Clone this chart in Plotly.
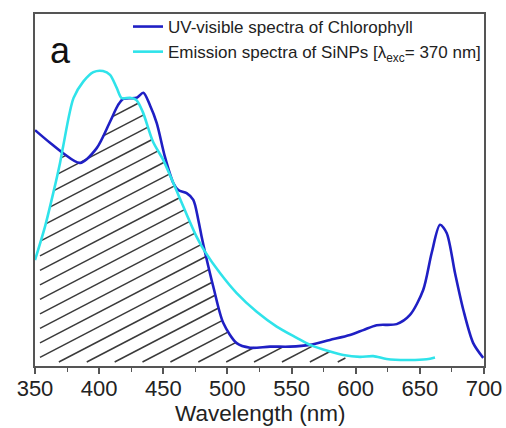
import numpy as np
import plotly.graph_objects as go

# ---------------- data ----------------
wl_uv = [350, 361.7, 371.8, 385.1, 398.1, 408.5, 414.7, 418.8, 429.3, 434.4,
         439.6, 444.9, 451.3, 457.8, 461.7, 468.2, 473.4, 477.3, 479.9, 482.5,
         489.0, 496.8, 507.2, 517.6, 533.2, 548.8, 564.3, 579.9, 595.5, 605.9,
         616.3, 631.9, 642.3, 652.6, 659.2, 665.7, 670.9, 677.4, 683.9, 691.6, 699.4]
abs_uv = [0.670, 0.634, 0.605, 0.577, 0.619, 0.694, 0.741, 0.759, 0.762, 0.776,
          0.741, 0.690, 0.594, 0.520, 0.500, 0.491, 0.472, 0.415, 0.367, 0.324,
          0.225, 0.122, 0.065, 0.052, 0.055, 0.055, 0.060, 0.074, 0.088, 0.102,
          0.116, 0.119, 0.145, 0.216, 0.321, 0.401, 0.378, 0.264, 0.159, 0.065, 0.023]

wl_em = [350, 357.8, 364.2, 369.5, 372.0, 380.0, 387.6, 395.5, 403.0, 408.5,
         413.7, 417.6, 424.0, 429.0, 434.0, 442.0, 450.0, 459.1, 465.6, 476.0,
         482.5, 494.2, 507.2, 522.8, 538.4, 554.0, 564.3, 580.0, 590.3, 603.3,
         613.7, 624.1, 639.7, 655.3, 661.8]
em = [0.301, 0.396, 0.491, 0.577, 0.625, 0.761, 0.808, 0.835, 0.838, 0.827,
      0.790, 0.761, 0.762, 0.756, 0.722, 0.637, 0.585, 0.509, 0.453, 0.367,
      0.325, 0.264, 0.207, 0.154, 0.112, 0.080, 0.060, 0.041, 0.031, 0.026,
      0.028, 0.020, 0.017, 0.019, 0.024]

x_ticks = [350, 400, 450, 500, 550, 600, 650, 700]
hatch_end = 592  # nm, right limit of the hatched overlap region

# ---------------- layout geometry ----------------
W, H = 506, 428
ml, mr, mt, mb = 35, 22, 14, 62
pw, ph = W - ml - mr, H - mt - mb
x0, x1 = 350, 700
y0, y1 = 0.0, 1.0

def to_px(nm):
    return (np.asarray(nm) - x0) / (x1 - x0) * pw

def to_py(v):
    return (y1 - np.asarray(v)) / (y1 - y0) * ph

def from_py(py):
    return y1 - np.asarray(py) / ph * (y1 - y0)

# ---------------- hatch of the overlap area ----------------
g = np.arange(350, 700.001, 0.05)
upper = np.minimum(np.interp(g, wl_uv, abs_uv), np.interp(g, wl_em, em))
gpx = to_px(g)
upy = to_py(upper)
valid = (g <= hatch_end) & (gpx >= 5)
slope = 0.52        # pixel slope of hatch lines
gap = 14.5          # vertical pixel spacing of hatch lines
c0 = 343.3 + slope * 5
hx, hy = [], []
for k in range(-40, 40):
    c = c0 + k * gap
    lpy = c - slope * gpx
    inside = valid & (lpy >= upy) & (lpy <= ph - 4)
    if not inside.any():
        continue
    idx = np.where(inside)[0]
    splits = np.where(np.diff(idx) > 1)[0]
    starts = np.r_[idx[0], idx[splits + 1]]
    ends = np.r_[idx[splits], idx[-1]]
    for s, e in zip(starts, ends):
        if e - s < 2:
            continue
        hx += [float(g[s]), float(g[e]), None]
        hy += [float(from_py(lpy[s])), float(from_py(lpy[e])), None]

fig = go.Figure()
fig.add_trace(go.Scatter(x=hx, y=hy, mode="lines", line=dict(color="#3a3a3a", width=1.5),
                         showlegend=False, hoverinfo="skip"))
fig.add_trace(go.Scatter(x=wl_uv, y=abs_uv, mode="lines",
                         line=dict(color="#1f1fc4", width=2.6, shape="spline", smoothing=0.8),
                         name="UV-visible spectra of Chlorophyll"))
fig.add_trace(go.Scatter(x=wl_em, y=em, mode="lines",
                         line=dict(color="#2fe3ea", width=2.6, shape="spline", smoothing=0.8),
                         name="Emission spectra of SiNPs [λ<sub>exc</sub>= 370 nm]"))

font_family = "Liberation Sans, Arial, sans-serif"
fig.update_layout(
    width=W, height=H,
    margin=dict(l=ml, r=mr, t=mt, b=mb, pad=0, autoexpand=False),
    paper_bgcolor="white", plot_bgcolor="white",
    font=dict(family=font_family, color="#222"),
    showlegend=True,
    legend=dict(x=(128 - ml) / pw, xanchor="left", y=1.0 + 5 / ph, yanchor="top",
                bgcolor="rgba(0,0,0,0)", font=dict(size=17, color="#222"),
                tracegroupgap=0),
    xaxis=dict(range=[x0, x1], tickvals=x_ticks, ticks="outside", ticklen=6, tickwidth=1.5,
               tickcolor="#555", showline=True, linecolor="#555", linewidth=1.5, mirror=True,
               showgrid=False, zeroline=False, tickfont=dict(size=22, color="#222"),
               automargin=False, ticklabelstandoff=-4,
               minor=dict(dtick=25, ticks="outside", ticklen=4, tickwidth=1.2, tickcolor="#555")),
    yaxis=dict(range=[y0, y1], showticklabels=False, ticks="", showline=True, linecolor="#555",
               linewidth=1.5, mirror=True, showgrid=False, zeroline=False, automargin=False),
    annotations=[
        dict(text="a", x=(60 - ml) / pw, y=(366 - 50) / ph, xref="paper", yref="paper",
             xanchor="center", yanchor="middle", showarrow=False,
             font=dict(size=36, color="#111", family=font_family)),
        dict(text="Wavelength (nm)", x=(260 - ml) / pw, y=(366 - 414) / ph, xref="paper", yref="paper",
             xanchor="center", yanchor="middle", showarrow=False,
             font=dict(size=22.5, color="#222", family=font_family)),
    ],
)

fig.write_html("out.html")
